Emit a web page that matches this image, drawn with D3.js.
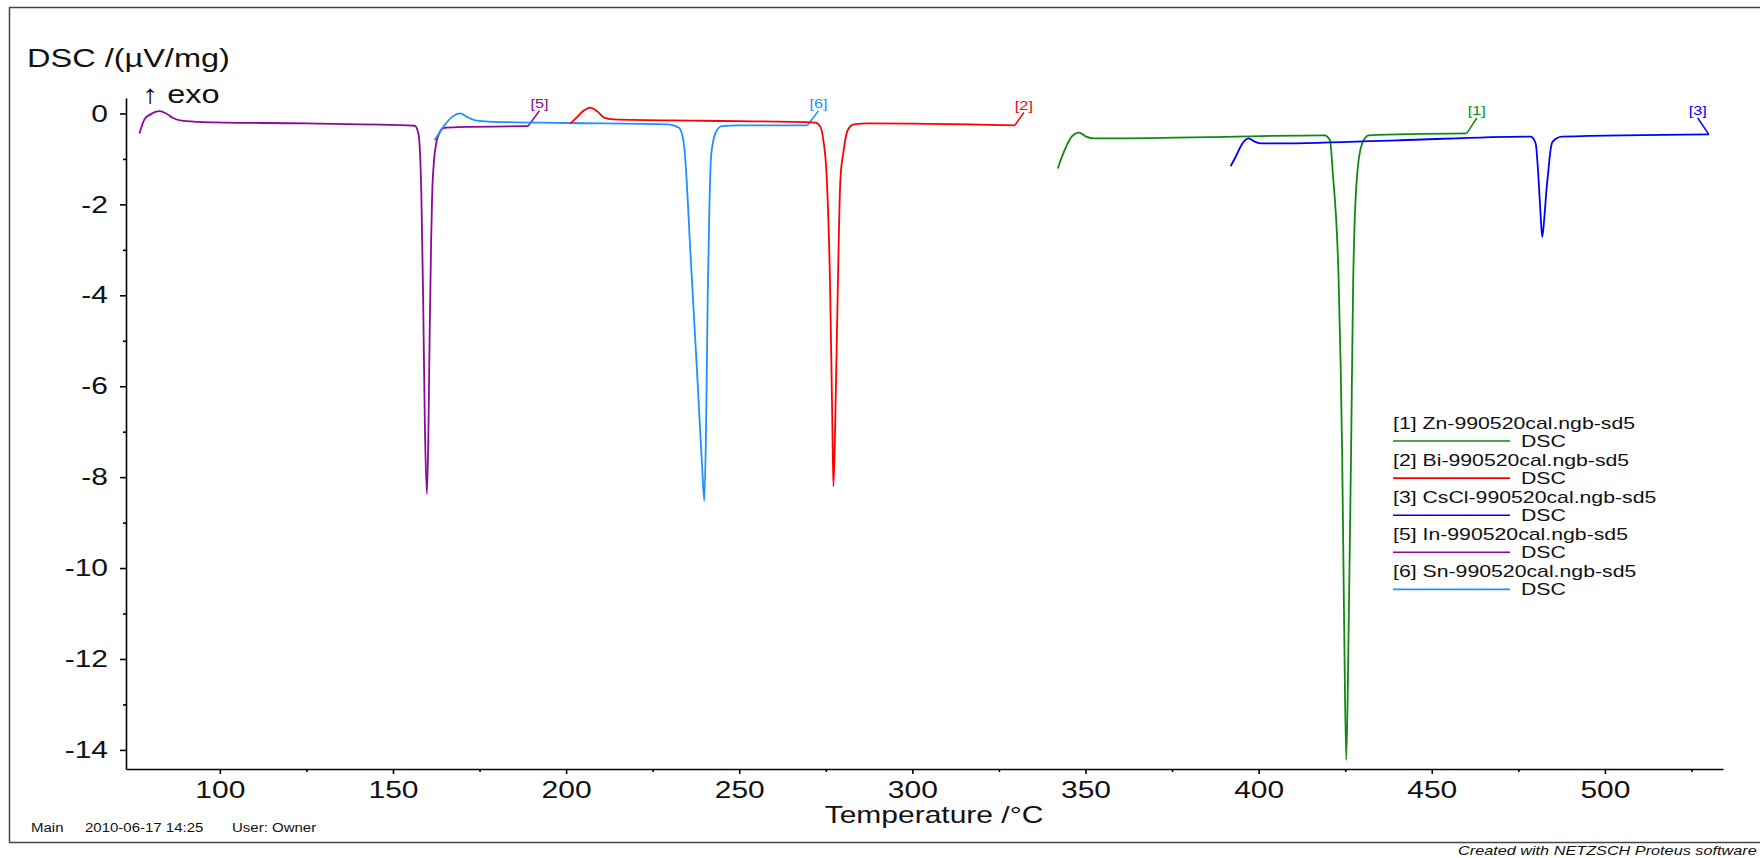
<!DOCTYPE html>
<html>
<head>
<meta charset="utf-8">
<script src="https://cdn.jsdelivr.net/npm/d3@7"></script>
<style>
  body { margin: 0; background: #fff; }
  text { font-family: "Liberation Sans", Arial, sans-serif; fill: #111; }
</style>
</head>
<body>
<div id="chart"></div>
<script>
var width = 1760,
    height = 858,
    stretch = 1.25   // the source export is widened, so is its lettering
;

// Measured curves, one pair of arrays per sample
var znTemp = [342.0, 343.2, 344.6, 346.0, 348.1, 350.2, 352.3, 385.0, 419.0, 420.6, 421.4, 423.1, 424.1, 424.7, 425.3, 426.0, 426.7, 427.3, 428.4, 429.9, 431.8, 460.1],
    znDsc  = [-1.21, -0.95, -0.70, -0.51, -0.42, -0.51, -0.55, -0.52, -0.48, -0.59, -1.30, -3.68, -7.4, -11.3, -14.22, -11.3, -7.4, -3.68, -1.39, -0.66, -0.48, -0.44];

var biTemp = [201.3, 203.3, 205.2, 206.9, 209.1, 211.0, 213.6, 240.0, 272.0, 273.4, 274.3, 275.3, 276.2, 276.9, 277.2, 277.7, 278.5, 279.2, 280.1, 281.3, 283.1, 287.1, 329.6],
    biDsc  = [-0.22, -0.07, 0.07, 0.13, 0.04, -0.09, -0.13, -0.16, -0.20, -0.29, -0.59, -1.46, -3.68, -6.89, -8.2, -6.89, -3.68, -1.46, -0.84, -0.37, -0.24, -0.22, -0.26];

var csTemp = [391.9, 393.6, 395.0, 397.1, 398.9, 400.6, 403.4, 440.0, 478.6, 480.0, 480.8, 481.4, 481.9, 482.5, 483.1, 483.5, 484.3, 484.9, 487.6, 530.0],
    csDsc  = [-1.16, -0.92, -0.70, -0.55, -0.62, -0.66, -0.66, -0.59, -0.51, -0.66, -1.4, -2.2, -2.72, -2.3, -1.7, -1.39, -0.8, -0.62, -0.51, -0.46];

var inTemp = [76.8, 78.3, 80.0, 82.6, 84.5, 86.5, 89.0, 95.0, 125.0, 156.3, 157.2, 157.6, 158.2, 158.7, 159.2, 159.8, 160.2, 160.6, 161.0, 161.3, 161.9, 162.5, 163.3, 164.6, 168.7, 189.0],
    inDsc  = [-0.44, -0.12, -0.02, 0.05, 0.0, -0.10, -0.16, -0.19, -0.22, -0.27, -0.40, -0.6, -1.8, -4.0, -6.8, -8.37, -7.2, -4.8, -2.9, -1.84, -1.0, -0.65, -0.45, -0.32, -0.30, -0.28];

var snTemp = [162.0, 163.2, 164.6, 167.2, 169.4, 171.7, 174.3, 177.5, 200.0, 229.4, 231.6, 232.8, 234.1, 236.0, 237.9, 239.3, 239.9, 240.4, 240.9, 241.4, 241.8, 242.5, 243.1, 244.9, 249.7, 269.7],
    snDsc  = [-0.59, -0.45, -0.29, -0.07, 0.0, -0.09, -0.16, -0.18, -0.21, -0.24, -0.28, -0.33, -0.73, -3.2, -5.8, -7.8, -8.52, -7.0, -4.0, -2.0, -1.03, -0.6, -0.44, -0.28, -0.26, -0.26];

// Curve tags ([n] labels) and the point each leader runs up to
var tagNames = ['[1]', '[2]', '[3]', '[5]', '[6]'],
    tagTemp  = [463.0, 332.2, 526.8, 192.3, 272.9],
    tagDsc   = [-0.10, 0.02, -0.10, 0.06, 0.06];

var legendNames = ['[1] Zn-990520cal.ngb-sd5', '[2] Bi-990520cal.ngb-sd5', '[3] CsCl-990520cal.ngb-sd5', '[5] In-990520cal.ngb-sd5', '[6] Sn-990520cal.ngb-sd5'],
    colors = ['#0f8a0f', '#ff0000', '#0000ff', '#8a0a96', '#1e90ff'];

var xTicks = [100, 150, 200, 250, 300, 350, 400, 450, 500],
    xMinor = [125, 175, 225, 275, 325, 375, 425, 475, 525],
    yTicks = [0, -2, -4, -6, -8, -10, -12, -14],
    yMinor = [-1, -3, -5, -7, -9, -11, -13];

var curves = [
    {temp: znTemp, dsc: znDsc},
    {temp: biTemp, dsc: biDsc},
    {temp: csTemp, dsc: csDsc},
    {temp: inTemp, dsc: inDsc},
    {temp: snTemp, dsc: snDsc}
];

var svg = d3.select('#chart')
    .append('svg')
    .attr('width', width)
    .attr('height', height);

function label(sel, x, y, str, size) {
    return sel.append('text')
        .attr('transform', 'translate(' + x + ',' + y + ') scale(' + stretch + ',1)')
        .style('font-size', size + 'px')
        .text(str);
}

// Frame (runs off the right edge like the export)
svg.append('rect')
    .attr('x', 9.5).attr('y', 7.5)
    .attr('width', 1800).attr('height', 835)
    .attr('fill', 'none')
    .attr('stroke', '#444')
    .attr('stroke-width', 1.5);

// Scales
var x = d3.scaleLinear().domain([72.9, 534.1]).range([126, 1723]),
    y = d3.scaleLinear().domain([0.34, -14.42]).range([98, 769]);

// Axes
var gx = svg.append('g')
    .attr('transform', 'translate(0,769)')
    .call(d3.axisBottom(x).tickValues(xTicks).tickSize(5).tickSizeOuter(0).tickPadding(7)
        .tickFormat(function(d) { return String(d); }));

svg.append('g')
    .attr('transform', 'translate(0,769)')
    .call(d3.axisBottom(x).tickValues(xMinor).tickSize(3).tickSizeOuter(0).tickFormat(''))
    .select('.domain').remove();

var gy = svg.append('g')
    .attr('transform', 'translate(126,0)')
    .call(d3.axisLeft(y).tickValues(yTicks).tickSize(6).tickSizeOuter(0)
        .tickFormat(function(d) { return String(d); }));

svg.append('g')
    .attr('transform', 'translate(126,0)')
    .call(d3.axisLeft(y).tickValues(yMinor).tickSize(3).tickSizeOuter(0).tickFormat(''))
    .select('.domain').remove();

svg.selectAll('.domain, .tick line')
    .attr('stroke', '#000')
    .attr('stroke-width', 1.6);

gx.selectAll('.tick text')
    .attr('transform', 'scale(' + stretch + ',1)')
    .style('font-size', '24px')
    .attr('fill', '#111');

gy.selectAll('.tick text')
    .attr('x', null)
    .attr('transform', 'translate(-18,0) scale(' + stretch + ',1)')
    .style('font-size', '24px')
    .attr('fill', '#111');

// Axis titles
label(svg, 27, 67, 'DSC /(\u00b5V/mg)', 26);
label(svg, 142, 103, '\u2191 exo', 26);
label(svg, 934, 823, 'Temperature /\u00b0C', 24).attr('text-anchor', 'middle');

// Curves
var line = d3.line()
    .curve(d3.curveMonotoneX)
    .x(function(d) { return x(d[0]); })
    .y(function(d) { return y(d[1]); });

var drawOrder = [3, 4, 1, 0, 2];
drawOrder.forEach(function(i) {
    var c = curves[i],
        pts = c.temp.map(function(t, j) { return [t, c.dsc[j]]; }),
        last = pts[pts.length - 1];

    svg.append('path')
        .attr('d', line(pts))
        .attr('fill', 'none')
        .attr('stroke', colors[i])
        .attr('stroke-width', 1.8)
        .attr('stroke-linejoin', 'round');

    // leader up to the tag
    svg.append('line')
        .attr('x1', x(last[0])).attr('y1', y(last[1]))
        .attr('x2', x(tagTemp[i])).attr('y2', y(tagDsc[i]))
        .attr('stroke', colors[i])
        .attr('stroke-width', 1.5);

    label(svg, x(tagTemp[i]), y(tagDsc[i]) - 3, tagNames[i], 13)
        .attr('text-anchor', 'middle')
        .style('fill', colors[i]);
});

// Legend
var legend = svg.append('g').attr('transform', 'translate(1393,429)');
legendNames.forEach(function(name, i) {
    var row = legend.append('g').attr('transform', 'translate(0,' + (i * 37.1) + ')');
    label(row, 0, 0, name, 17);
    row.append('line')
        .attr('x1', 0).attr('x2', 117)
        .attr('y1', 12).attr('y2', 12)
        .attr('stroke', colors[i])
        .attr('stroke-width', 1.6);
    label(row, 128, 18, 'DSC', 17);
});

// Footer
label(svg, 31, 832, 'Main', 12);
label(svg, 85, 832, '2010-06-17 14:25', 12);
label(svg, 232, 832, 'User: Owner', 12);
label(svg, 1458, 855, 'Created with NETZSCH Proteus software', 13)
    .style('font-style', 'italic');
</script>
</body>
</html>
